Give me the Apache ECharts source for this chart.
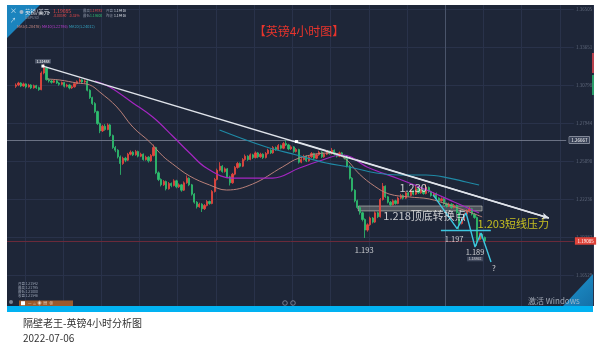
<!DOCTYPE html>
<html><head><meta charset="utf-8">
<script src="https://cdn.jsdelivr.net/npm/echarts@6/dist/echarts.min.js"></script>
<style>html,body{margin:0;padding:0;background:#fff}#c{width:600px;height:359px}</style>
</head><body><div id="c"></div>
<script>
// ---- data ----
const slotCount = 230;      // 4H slots on the time axis (incl. empty future space)
const firstSlot = 3;        // slot of the first candle
// [open, close, low, high]
const ohlc = [
[1.3070,1.3080,1.3058,1.3092],[1.3080,1.3095,1.3071,1.3104],[1.3095,1.3072,1.3064,1.3101],[1.3072,1.3088,1.3066,1.3098],
[1.3088,1.3065,1.3054,1.3093],[1.3065,1.3080,1.3060,1.3089],[1.3080,1.3058,1.3049,1.3086],[1.3058,1.3075,1.3052,1.3083],
[1.3075,1.3060,1.3050,1.3081],[1.3060,1.3045,1.3036,1.3068],[1.3045,1.3170,1.3040,1.3182],[1.3170,1.3210,1.3160,1.3235],
[1.3210,1.3120,1.3112,1.3218],[1.3120,1.3110,1.3098,1.3131],[1.3110,1.3100,1.3090,1.3122],[1.3100,1.3112,1.3094,1.3121],
[1.3112,1.3095,1.3088,1.3118],[1.3095,1.3085,1.3074,1.3101],[1.3085,1.3098,1.3078,1.3106],[1.3098,1.3070,1.3061,1.3103],
[1.3070,1.3080,1.3062,1.3089],[1.3080,1.3058,1.3047,1.3086],[1.3058,1.3066,1.3050,1.3078],[1.3066,1.3090,1.3060,1.3098],
[1.3090,1.3105,1.3084,1.3114],[1.3105,1.3118,1.3097,1.3130],[1.3118,1.3102,1.3093,1.3124],[1.3102,1.3110,1.3095,1.3121],
[1.3110,1.3040,1.3032,1.3116],[1.3040,1.2985,1.2975,1.3048],[1.2985,1.2940,1.2930,1.2992],[1.2940,1.2880,1.2868,1.2951],
[1.2880,1.2790,1.2780,1.2887],[1.2790,1.2735,1.2718,1.2798],[1.2735,1.2770,1.2727,1.2781],[1.2770,1.2745,1.2736,1.2786],
[1.2745,1.2780,1.2740,1.2792],[1.2780,1.2700,1.2690,1.2788],[1.2700,1.2610,1.2600,1.2708],[1.2610,1.2590,1.2575,1.2622],
[1.2590,1.2540,1.2528,1.2598],[1.2540,1.2490,1.2405,1.2551],[1.2490,1.2530,1.2480,1.2541],[1.2530,1.2515,1.2500,1.2540],
[1.2515,1.2560,1.2508,1.2570],[1.2560,1.2575,1.2551,1.2588],[1.2575,1.2555,1.2546,1.2583],[1.2555,1.2580,1.2549,1.2592],
[1.2580,1.2545,1.2536,1.2587],[1.2545,1.2560,1.2538,1.2571],[1.2560,1.2520,1.2511,1.2566],[1.2520,1.2538,1.2512,1.2549],
[1.2538,1.2510,1.2497,1.2546],[1.2510,1.2550,1.2503,1.2561],[1.2550,1.2610,1.2543,1.2632],[1.2610,1.2420,1.2410,1.2616],
[1.2420,1.2370,1.2358,1.2431],[1.2370,1.2330,1.2318,1.2379],[1.2330,1.2355,1.2322,1.2366],[1.2355,1.2300,1.2288,1.2362],
[1.2300,1.2340,1.2294,1.2351],[1.2340,1.2325,1.2312,1.2348],[1.2325,1.2360,1.2318,1.2372],[1.2360,1.2315,1.2304,1.2368],
[1.2315,1.2330,1.2306,1.2341],[1.2330,1.2290,1.2278,1.2337],[1.2290,1.2345,1.2284,1.2356],[1.2345,1.2380,1.2338,1.2400],
[1.2380,1.2330,1.2320,1.2386],[1.2330,1.2260,1.2249,1.2337],[1.2260,1.2200,1.2188,1.2268],[1.2200,1.2165,1.2152,1.2208],
[1.2165,1.2185,1.2158,1.2196],[1.2185,1.2150,1.2126,1.2192],[1.2150,1.2175,1.2141,1.2186],[1.2175,1.2205,1.2168,1.2216],
[1.2205,1.2190,1.2180,1.2212],[1.2190,1.2280,1.2184,1.2291],[1.2280,1.2370,1.2272,1.2382],[1.2370,1.2440,1.2362,1.2452],
[1.2440,1.2470,1.2432,1.2500],[1.2470,1.2430,1.2421,1.2478],[1.2430,1.2450,1.2422,1.2461],[1.2450,1.2390,1.2380,1.2456],
[1.2390,1.2345,1.2325,1.2398],[1.2345,1.2410,1.2338,1.2420],[1.2410,1.2460,1.2402,1.2471],[1.2460,1.2490,1.2451,1.2502],
[1.2490,1.2470,1.2460,1.2498],[1.2470,1.2520,1.2463,1.2531],[1.2520,1.2545,1.2511,1.2558],[1.2545,1.2520,1.2510,1.2552],
[1.2520,1.2555,1.2514,1.2566],[1.2555,1.2535,1.2524,1.2563],[1.2535,1.2570,1.2528,1.2581],[1.2570,1.2540,1.2530,1.2577],
[1.2540,1.2560,1.2533,1.2571],[1.2560,1.2535,1.2524,1.2567],[1.2535,1.2565,1.2528,1.2576],[1.2565,1.2590,1.2558,1.2601],
[1.2590,1.2570,1.2561,1.2598],[1.2570,1.2610,1.2563,1.2621],[1.2610,1.2595,1.2585,1.2618],[1.2595,1.2625,1.2588,1.2636],
[1.2625,1.2605,1.2596,1.2632],[1.2605,1.2640,1.2598,1.2652],[1.2640,1.2630,1.2621,1.2667],[1.2630,1.2600,1.2590,1.2638],
[1.2600,1.2615,1.2592,1.2626],[1.2615,1.2580,1.2570,1.2621],[1.2580,1.2595,1.2573,1.2606],[1.2595,1.2500,1.2490,1.2601],
[1.2500,1.2520,1.2492,1.2531],[1.2520,1.2545,1.2513,1.2556],[1.2545,1.2510,1.2501,1.2552],[1.2510,1.2540,1.2504,1.2551],
[1.2540,1.2565,1.2533,1.2576],[1.2565,1.2530,1.2520,1.2571],[1.2530,1.2555,1.2523,1.2566],[1.2555,1.2575,1.2548,1.2586],
[1.2575,1.2540,1.2531,1.2582],[1.2540,1.2560,1.2533,1.2571],[1.2560,1.2580,1.2553,1.2591],[1.2580,1.2565,1.2556,1.2588],
[1.2565,1.2590,1.2558,1.2607],[1.2590,1.2560,1.2551,1.2596],[1.2560,1.2545,1.2535,1.2568],[1.2545,1.2570,1.2538,1.2580],
[1.2570,1.2550,1.2541,1.2577],[1.2550,1.2530,1.2520,1.2557],[1.2530,1.2470,1.2460,1.2536],[1.2470,1.2380,1.2370,1.2478],
[1.2380,1.2290,1.2278,1.2388],[1.2290,1.2210,1.2198,1.2297],[1.2210,1.2160,1.2148,1.2219],[1.2160,1.2120,1.2106,1.2172],
[1.2120,1.2070,1.2055,1.2128],[1.2070,1.1990,1.1931,1.2078],[1.1990,1.2030,1.1978,1.2041],[1.2030,1.2080,1.2022,1.2091],
[1.2080,1.2050,1.2040,1.2088],[1.2050,1.2120,1.2043,1.2131],[1.2120,1.2090,1.2080,1.2128],[1.2090,1.2220,1.2084,1.2231],
[1.2220,1.2320,1.2212,1.2344],[1.2320,1.2240,1.2230,1.2326],[1.2240,1.2200,1.2190,1.2247],[1.2200,1.2180,1.2170,1.2208],
[1.2180,1.2210,1.2174,1.2221],[1.2210,1.2190,1.2180,1.2218],[1.2190,1.2230,1.2184,1.2241],[1.2230,1.2250,1.2222,1.2262],
[1.2250,1.2230,1.2220,1.2258],[1.2230,1.2270,1.2224,1.2281],[1.2270,1.2250,1.2241,1.2277],[1.2250,1.2285,1.2243,1.2296],
[1.2285,1.2260,1.2251,1.2292],[1.2260,1.2300,1.2253,1.2330],[1.2300,1.2270,1.2261,1.2308],[1.2270,1.2290,1.2263,1.2301],
[1.2290,1.2265,1.2256,1.2297],[1.2265,1.2310,1.2258,1.2335],[1.2310,1.2280,1.2270,1.2318],[1.2280,1.2250,1.2241,1.2287],
[1.2250,1.2265,1.2243,1.2276],[1.2265,1.2230,1.2221,1.2272],[1.2230,1.2210,1.2200,1.2237],[1.2210,1.2225,1.2203,1.2236],
[1.2225,1.2190,1.2180,1.2232],[1.2190,1.2170,1.2160,1.2197],[1.2170,1.2185,1.2163,1.2196],[1.2185,1.2160,1.2150,1.2192],
[1.2160,1.2175,1.2153,1.2186],[1.2175,1.2120,1.2110,1.2182],[1.2120,1.2040,1.1995,1.2128],[1.2040,1.2070,1.2032,1.2081],
[1.2070,1.2110,1.2063,1.2121],[1.2110,1.2135,1.2103,1.2146],[1.2135,1.2150,1.2128,1.2165],[1.2150,1.2110,1.2100,1.2157],
[1.2110,1.2085,1.2075,1.2118],[1.2085,1.1920,1.1871,1.2092],[1.1920,1.1960,1.1912,1.1971],[1.1960,1.1935,1.1925,1.1968],
[1.1935,1.19085,1.1900,1.1942]
];
// moving averages: [slot, price]
const ma5 = [[15.2,1.3125],[20.3,1.3117],[26.9,1.3095],[32.0,1.3080],[35.9,1.3027],[42.6,1.2915],[48.9,1.2764],[55.5,1.2652],[60.6,1.2547],[64.5,1.2487],[71.2,1.2396],[79.0,1.2329],[85.7,1.2291],[95.9,1.2336],[107.6,1.2464],[114.3,1.2532],[126.0,1.2569],[131.9,1.2532],[137.8,1.2411],[143.7,1.2321],[149.5,1.2261],[157.4,1.2239],[165.2,1.2224],[173.0,1.2179],[180.9,1.2126],[186.0,1.2089]];
const ma10 = [[34.0,1.3110],[39.8,1.3065],[48.9,1.2945],[56.7,1.2839],[64.5,1.2697],[71.2,1.2569],[77.8,1.2456],[88.0,1.2381],[103.7,1.2381],[114.3,1.2456],[122.1,1.2509],[131.1,1.2554],[141.7,1.2456],[153.4,1.2374],[165.2,1.2284],[175.0,1.2201],[184.8,1.2119]];
const ma20 = [[82.9,1.2742],[101.3,1.2614],[113.1,1.2554],[124.8,1.2494],[133.9,1.2464],[144.4,1.2419],[153.4,1.2404],[164.0,1.2404],[173.0,1.2381],[179.7,1.2351],[184.8,1.2329]];
const priceTicks = [1.36505,1.33651,1.30798,1.27944,1.25090,1.22236,1.19382,1.16529];
const trendLine = [[13.6,1.3222],[212.2,1.2081]];
const trendHandle = [113.1,1.2655];
const trendStartLabel = '1.31488';
const projection = [[166.75,1.2254],[176.15,1.2001],[179.68,1.2119],[183.2,1.1863],[185.55,1.1968],[189.47,1.1751]];
const resistance = [[169.8,1.1987],[189.4,1.1987]];
const band = [[137.4,1.2171],[185.95,1.2134]];
const lastPrice = 1.19085;
const markedHigh = 1.26667;
const lowBoxLabel = '1.18862';
const annoTexts = ['1.230','1.218顶底转换点','1.193','1.197','1.189','1.203短线压力','?'];
const annoAt = [[158.9,1.2306],[147.0,1.2096],[139.7,1.1841],[175.0,1.1923],[183.2,1.1826],[184.0,1.2036],[190.6,1.1705]];
const title = '【英镑4小时图】';
const caption = '隔壁老王-英镑4小时分析图';
const captionDate = '2022-07-06';

// ---- chart ----
const font = '"Noto Sans CJK SC","Noto Sans",sans-serif';
const chart = echarts.init(document.getElementById('c'));
const slots = Array.from({length: slotCount}, (_, k) => String(k));
const candleData = Array(firstSlot).fill('-').concat(ohlc);
const endSlot = 222.0;
const UP = '#e8473f', DOWN = '#2fbf6f';

const gridItems = priceTicks.map(v => [
  {coord: [-0.5, v], symbol: 'none'},
  {coord: [endSlot, v], symbol: 'none', lineStyle: {color: '#29324a', width: 1, type: 'solid'},
   label: {show: true, position: 'end', distance: 2, formatter: v.toFixed(5), color: '#5f687b', fontSize: 4.5}}
]);

const annoStyle = [
  {fs: 11, c: '#f2f2f2', pos: 'inside'},
  {fs: 11, c: '#f2f2f2', pos: 'right'},
  {fs: 7.5, c: '#f2f2f2', pos: 'inside'},
  {fs: 7.5, c: '#f2f2f2', pos: 'inside'},
  {fs: 7.5, c: '#f2f2f2', pos: 'inside'},
  {fs: 11, c: '#ece21c', pos: 'right'},
  {fs: 8, c: '#f2f2f2', pos: 'inside'}
];

const option = {
  animation: false,
  backgroundColor: '#ffffff',
  textStyle: {fontFamily: font},
  grid: {left: 7, right: 7, top: 5, bottom: 53, show: true, backgroundColor: '#1e2638', borderWidth: 0, containLabel: false, outerBoundsMode: 'none'},
  xAxis: [
    {type: 'category', data: slots, boundaryGap: true, show: true,
     axisLine: {show: false}, axisTick: {show: false}, axisLabel: {show: false},
     splitLine: {show: true, interval: (i) => (((i - 172) % 15) + 15) % 15 === 0, lineStyle: {color: '#29324a', width: 1}}},
    {type: 'value', min: -0.5, max: slotCount - 0.5, show: false}
  ],
  yAxis: [{type: 'value', min: 1.142, max: 1.36806, show: false, scale: true}],
  series: [
    {type: 'candlestick', xAxisIndex: 0, yAxisIndex: 0, data: candleData, barWidth: 1.7, z: 2,
     itemStyle: {color: UP, color0: DOWN, borderColor: UP, borderColor0: DOWN, borderWidth: 0.8}},
    {type: 'line', xAxisIndex: 1, data: ma5, smooth: 0.4, showSymbol: false, z: 3, lineStyle: {color: '#b98079', width: 1}},
    {type: 'line', xAxisIndex: 1, data: ma10, smooth: 0.4, showSymbol: false, z: 3, lineStyle: {color: '#a526c2', width: 1.2}},
    {type: 'line', xAxisIndex: 1, data: ma20, smooth: 0.4, showSymbol: false, z: 3, lineStyle: {color: '#1f8aa6', width: 1.2}},
    {type: 'line', xAxisIndex: 1, data: trendLine, showSymbol: false, z: 4, clip: false,
     lineStyle: {color: '#dfe3ea', width: 1.4},
     markLine: {silent: true, symbol: 'none', label: {show: false}, animation: false, z: 1,
       data: gridItems.concat([
         {xAxis: 171.5, lineStyle: {color: '#4a546a', width: 1, type: 'solid'}},
         [{coord: [-0.5, markedHigh], symbol: 'none'},
          {coord: [endSlot - 3, markedHigh], symbol: 'none', lineStyle: {color: '#7d8597', width: 0.8, type: 'solid'},
           label: {show: true, position: 'end', distance: 3, formatter: markedHigh.toFixed(5), color: '#ffffff', fontSize: 4.5,
                   backgroundColor: '#3a4358', borderColor: '#c5cad4', borderWidth: 0.5, padding: [1, 2]}}],
         [{coord: [-0.5, lastPrice], symbol: 'none'},
          {coord: [endSlot, lastPrice], symbol: 'none', lineStyle: {color: '#6a2a3a', width: 1, type: 'solid'},
           label: {show: true, position: 'end', distance: 1, formatter: lastPrice.toFixed(5), color: '#ffffff', fontSize: 4.5,
                   backgroundColor: '#e0433a', padding: [1.5, 2.5]}}],
         [{coord: trendHandle, symbol: 'none'},
          {coord: trendLine[1], symbol: 'arrow', symbolSize: [5, 7], lineStyle: {color: '#dfe3ea', width: 1.4, type: 'solid'}}]
       ])},
     markPoint: {silent: true, animation: false,
       data: [
         {coord: trendLine[0], symbol: 'rect', symbolSize: 3, itemStyle: {color: '#ffffff'},
          label: {show: true, position: 'top', distance: 1, formatter: trendStartLabel, color: '#fff', fontSize: 3.6, backgroundColor: '#4a5366', padding: [0.5, 1.5]}},
         {coord: trendHandle, symbol: 'rect', symbolSize: 3, itemStyle: {color: '#ffffff'}, label: {show: false}}
       ]},
     markArea: {silent: true, z: 1,
       itemStyle: {color: 'rgba(170,170,160,0.35)', borderColor: 'rgba(215,215,205,0.7)', borderWidth: 0.8},
       data: [[{coord: band[0]}, {coord: band[1]}]]}
    },
    {type: 'line', xAxisIndex: 1, data: projection, showSymbol: false, z: 5, clip: false, lineStyle: {color: '#3cc6e0', width: 1.4}},
    {type: 'line', xAxisIndex: 1, data: resistance, showSymbol: false, z: 5, lineStyle: {color: '#3cc6e0', width: 1.4}},
    {type: 'scatter', xAxisIndex: 1, z: 6, symbolSize: 1, itemStyle: {color: 'rgba(0,0,0,0)'},
     data: annoTexts.map((t, k) => ({value: annoAt[k],
       label: {show: true, formatter: t, position: annoStyle[k].pos, distance: 0, color: annoStyle[k].c, fontSize: annoStyle[k].fs, fontFamily: font}}))
       .concat([{value: [183.2, 1.1773], label: {show: true, formatter: lowBoxLabel, position: 'inside', color: '#e8e8e8', fontSize: 3.6,
         backgroundColor: '#4a5366', padding: [0.5, 1.5]}}])}
  ],
  graphic: [
    {type: 'polygon', z: 100, shape: {points: [[7, 5], [40, 5], [7, 38]]}, style: {fill: '#1b84be'}},
    {type: 'text', z: 101, x: 10, y: 10, style: {text: '×', fill: '#d5e8f4', fontSize: 7, fontFamily: font, verticalAlign: 'middle'}},
    {type: 'text', z: 101, x: 10, y: 20, style: {text: '↗', fill: '#d5e8f4', fontSize: 6, fontFamily: font, verticalAlign: 'middle'}},
    {type: 'circle', z: 101, shape: {cx: 21.5, cy: 12, r: 2}, style: {fill: '#9fb6cc'}},
    {type: 'text', z: 101, x: 25, y: 12, style: {text: '英镑/美元', fill: '#e6e9ef', fontSize: 5.5, fontFamily: font, verticalAlign: 'middle'}},
    {type: 'text', z: 101, x: 48, y: 12, style: {text: '▾', fill: '#c0c6d2', fontSize: 4, fontFamily: font, verticalAlign: 'middle'}},
    {type: 'text', z: 101, x: 25, y: 17.5, style: {text: 'GBPUSD', fill: '#8a92a3', fontSize: 3.5, fontFamily: font, verticalAlign: 'middle'}},
    {type: 'text', z: 101, x: 53, y: 11, style: {text: '1.19085', fill: '#e84a4a', fontSize: 5, fontFamily: font, verticalAlign: 'middle'}},
    {type: 'text', z: 101, x: 53, y: 16, style: {text: '-0.00390   -0.32%', fill: '#e84a4a', fontSize: 3.4, fontFamily: font, verticalAlign: 'middle'}},
    {type: 'text', z: 101, x: 83, y: 11, style: {text: '最高', fill: '#8a92a3', fontSize: 3.4, fontFamily: font, verticalAlign: 'middle'}},
    {type: 'text', z: 101, x: 90, y: 11, style: {text: '1.19783', fill: '#e84a4a', fontSize: 3.4, fontFamily: font, verticalAlign: 'middle'}},
    {type: 'text', z: 101, x: 106, y: 11, style: {text: '开盘', fill: '#8a92a3', fontSize: 3.4, fontFamily: font, verticalAlign: 'middle'}},
    {type: 'text', z: 101, x: 114, y: 11, style: {text: '1.19416', fill: '#d9dde5', fontSize: 3.4, fontFamily: font, verticalAlign: 'middle'}},
    {type: 'text', z: 101, x: 83, y: 16, style: {text: '最低', fill: '#8a92a3', fontSize: 3.4, fontFamily: font, verticalAlign: 'middle'}},
    {type: 'text', z: 101, x: 90, y: 16, style: {text: '1.18600', fill: '#2fbf6f', fontSize: 3.4, fontFamily: font, verticalAlign: 'middle'}},
    {type: 'text', z: 101, x: 106, y: 16, style: {text: '昨收', fill: '#8a92a3', fontSize: 3.4, fontFamily: font, verticalAlign: 'middle'}},
    {type: 'text', z: 101, x: 114, y: 16, style: {text: '1.19416', fill: '#d9dde5', fontSize: 3.4, fontFamily: font, verticalAlign: 'middle'}},
    {type: 'text', z: 101, x: 17, y: 27, style: {text: 'MA5(1.20476)', fill: '#c98a84', fontSize: 3.8, fontFamily: font, verticalAlign: 'middle'}},
    {type: 'text', z: 101, x: 42, y: 27, style: {text: 'MA10(1.22786)', fill: '#c23fd8', fontSize: 3.8, fontFamily: font, verticalAlign: 'middle'}},
    {type: 'text', z: 101, x: 69, y: 27, style: {text: 'MA20(1.24012)', fill: '#35a7c7', fontSize: 3.8, fontFamily: font, verticalAlign: 'middle'}},
    {type: 'text', z: 101, x: 299, y: 31, style: {text: title, fill: '#e8342c', fontSize: 12, fontFamily: font, align: 'center', verticalAlign: 'middle'}},
    {type: 'rect', z: 101, shape: {x: 592, y: 53, width: 2, height: 20}, style: {fill: '#b8404c'}},
    {type: 'rect', z: 101, shape: {x: 592, y: 75, width: 2, height: 20}, style: {fill: '#2a9d6a'}},
    {type: 'text', z: 101, x: 18, y: 284, style: {text: '开盘 1.21542', fill: '#9aa3b4', fontSize: 3.4, fontFamily: font, verticalAlign: 'middle'}},
    {type: 'text', z: 101, x: 18, y: 288, style: {text: '最高 1.21795', fill: '#9aa3b4', fontSize: 3.4, fontFamily: font, verticalAlign: 'middle'}},
    {type: 'text', z: 101, x: 18, y: 292, style: {text: '最低 1.21000', fill: '#9aa3b4', fontSize: 3.4, fontFamily: font, verticalAlign: 'middle'}},
    {type: 'text', z: 101, x: 18, y: 296, style: {text: '收盘 1.21546', fill: '#9aa3b4', fontSize: 3.4, fontFamily: font, verticalAlign: 'middle'}},
    {type: 'circle', z: 101, shape: {cx: 11, cy: 302, r: 2}, style: {fill: '#7a8292'}},
    {type: 'rect', z: 101, shape: {x: 19, y: 300.5, width: 54, height: 5.5}, style: {fill: '#9c5a2c'}},
    {type: 'rect', z: 102, shape: {x: 21, y: 301.2, width: 4, height: 4}, style: {fill: '#ffffff'}},
    {type: 'text', z: 102, x: 28, y: 303.3, style: {text: '—  ⌂  ◉  ▤  ⊗', fill: '#ead8c8', fontSize: 4, fontFamily: font, verticalAlign: 'middle'}},
    {type: 'circle', z: 101, shape: {cx: 285, cy: 303, r: 2.3}, style: {fill: 'none', stroke: '#8a92a2', lineWidth: 0.8}},
    {type: 'circle', z: 101, shape: {cx: 293, cy: 303, r: 2.3}, style: {fill: 'none', stroke: '#8a92a2', lineWidth: 0.8}},
    {type: 'polygon', z: 100, shape: {points: [[593, 274], [593, 306], [563, 306]]},
     style: {fill: new echarts.graphic.LinearGradient(0, 0, 1, 1, [{offset: 0, color: '#1f95cf'}, {offset: 1, color: '#1470a8'}])}},
    {type: 'text', z: 101, x: 528, y: 301, style: {text: '激活 Windows', fill: 'rgba(190,196,208,0.8)', fontSize: 8, fontFamily: font, verticalAlign: 'middle'}},
    {type: 'rect', z: 100, shape: {x: 7, y: 306, width: 586, height: 6}, style: {fill: '#02b2f2'}},
    {type: 'text', z: 101, x: 23, y: 323, style: {text: caption, fill: '#333333', fontSize: 10, fontFamily: font, verticalAlign: 'middle'}},
    {type: 'text', z: 101, x: 23, y: 338, style: {text: captionDate, fill: '#333333', fontSize: 10, fontFamily: font, verticalAlign: 'middle'}}
  ]
};
chart.setOption(option);
</script>
</body></html>
